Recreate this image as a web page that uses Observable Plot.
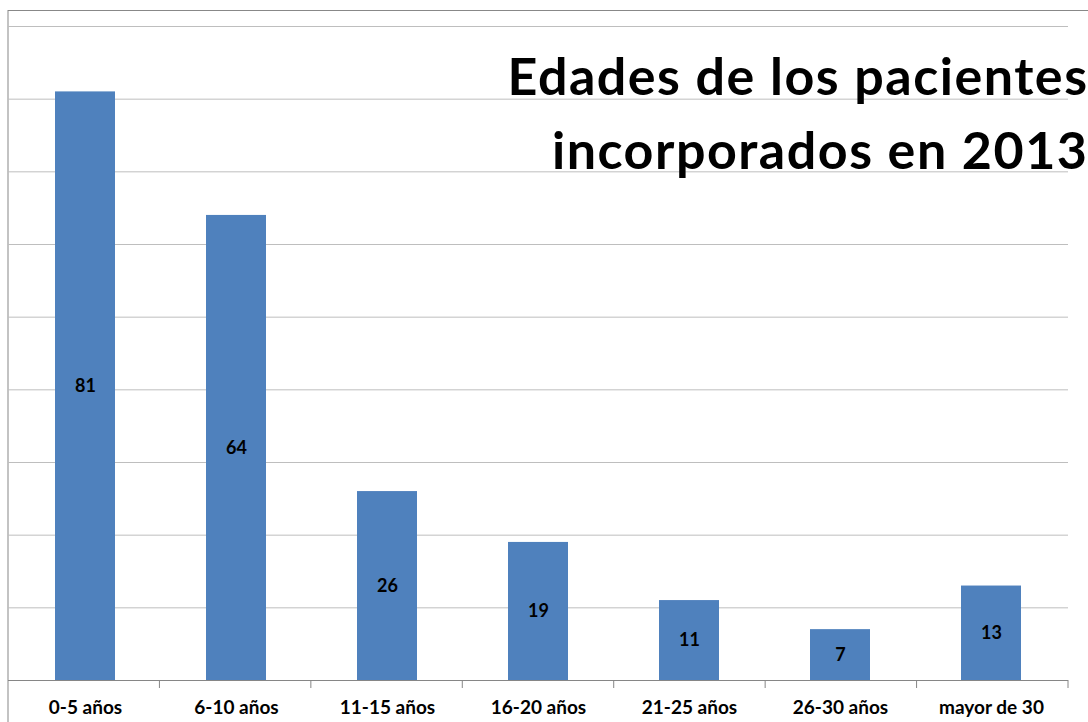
<!DOCTYPE html>
<html>
<head>
<meta charset="utf-8">
<script src="https://cdn.jsdelivr.net/npm/d3@7"></script>
<script src="https://cdn.jsdelivr.net/npm/@observablehq/plot@0.6"></script>
<style>
  html, body { margin: 0; padding: 0; background: #fff; }
  #chart { position: absolute; left: 0; top: 0; }
  svg { font-family: Lato, "Open Sans", sans-serif; }
</style>
</head>
<body>
<div id="chart"></div>
<script>
const categories = ["0-5 años", "6-10 años", "11-15 años", "16-20 años", "21-25 años", "26-30 años", "mayor de 30"];
const values = [81, 64, 26, 19, 11, 7, 13];
const yTicks = [10, 20, 30, 40, 50, 60, 70, 80, 90];
const titleText = "Edades de los pacientes\nincorporados en 2013";

const data = categories.map((c, i) => ({category: c, value: values[i]}));

// boundary tick marks between categories (Excel style)
function boundaryTicks(index, scales, values, dim) {
  const g = d3.create("svg:g");
  const n = categories.length;
  const x0 = dim.marginLeft, x1 = dim.width - dim.marginRight;
  const y0 = dim.height - dim.marginBottom;
  for (let i = 1; i <= n; i++) {
    const x = x0 + (x1 - x0) * i / n;
    g.append("line")
      .attr("x1", x).attr("x2", x)
      .attr("y1", y0).attr("y2", y0 + 8)
      .attr("stroke", "#868686").attr("stroke-width", 1);
  }
  return g.node();
}

const chart = Plot.plot({
  width: 1088,
  height: 722,
  marginLeft: 8,
  marginRight: 20,
  marginTop: 26,
  marginBottom: 42,
  style: {fontFamily: "Lato, 'Open Sans', sans-serif", background: "#fff"},
  x: {domain: categories, paddingInner: 0.6, paddingOuter: 0.3, label: null, axis: null},
  y: {domain: [0, 90], label: null, axis: null},
  marks: [
    Plot.frame({stroke: "#888", insetTop: -16, insetLeft: -0.5, insetRight: -40, insetBottom: -60}),
    Plot.gridY(yTicks, {stroke: "#BEBEBE", strokeOpacity: 1}),
    Plot.barY(data, {x: "category", y: "value", fill: "#4F81BD"}),
    Plot.ruleY([0], {stroke: "#868686"}),
    boundaryTicks,
    Plot.axisX({tickSize: 0, tickPadding: 20, fontSize: 19, fontWeight: "bold", fill: "#000", label: null}),
    Plot.text(data, {x: "category", y: d => d.value / 2, text: d => String(d.value), fontSize: 18, fontWeight: "bold", fill: "#000"}),
    Plot.text([titleText], {frameAnchor: "top-right", textAnchor: "end", lineAnchor: "top", dx: 20, dy: 16, fontSize: 52, fontWeight: "bold", lineHeight: 1.42, fill: "#000"})
  ]
});
d3.select(chart).selectAll("text")
  .filter(function() { return this.textContent.startsWith("Edades") || this.textContent.startsWith("incorporados"); })
  .style("letter-spacing", "1.5px");
document.getElementById("chart").appendChild(chart);
</script>
</body>
</html>
